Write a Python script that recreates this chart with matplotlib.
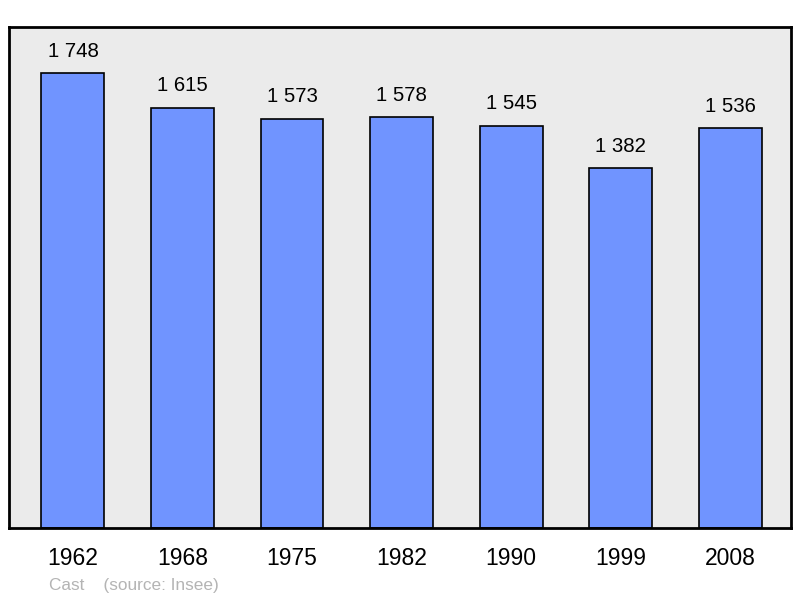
import matplotlib
matplotlib.use("Agg")
import matplotlib.pyplot as plt

# --- data ---
years = ["1962", "1968", "1975", "1982", "1990", "1999", "2008"]
population = [1748, 1615, 1573, 1578, 1545, 1382, 1536]

plt.rcParams['font.family'] = ['Liberation Sans', 'DejaVu Sans']

fig = plt.figure(figsize=(8, 5.98), dpi=100)
ax = fig.add_axes([0.01125, 0.117, 0.9775, 0.8378])
ax.set_facecolor('#ebebeb')

x = list(range(len(years)))
bars = ax.bar(x, population, width=0.575, color='#7094ff',
              edgecolor='black', linewidth=1.2, zorder=2)

# value labels above each bar
for xi, val in zip(x, population):
    label = f"{val:,}".replace(",", " ")
    ax.annotate(label, (xi, val), xytext=(0, 9), textcoords='offset points',
                ha='center', va='bottom', fontsize=14.7)

ax.set_xlim(-0.584, 6.556)
ax.set_ylim(0, 1925)
ax.set_xticks(x)
ax.set_xticklabels(years, fontsize=16.5)
ax.tick_params(axis='x', length=0, pad=13.5)
ax.set_yticks([])

for side in ax.spines.values():
    side.set_linewidth(2)
    side.set_color('black')

fig.text(0.061, 0.008, "Cast    (source: Insee)", fontsize=12.4,
         color='#b4b4b4', ha='left', va='bottom')

fig.savefig("out.png", dpi=100)
plt.close(fig)
